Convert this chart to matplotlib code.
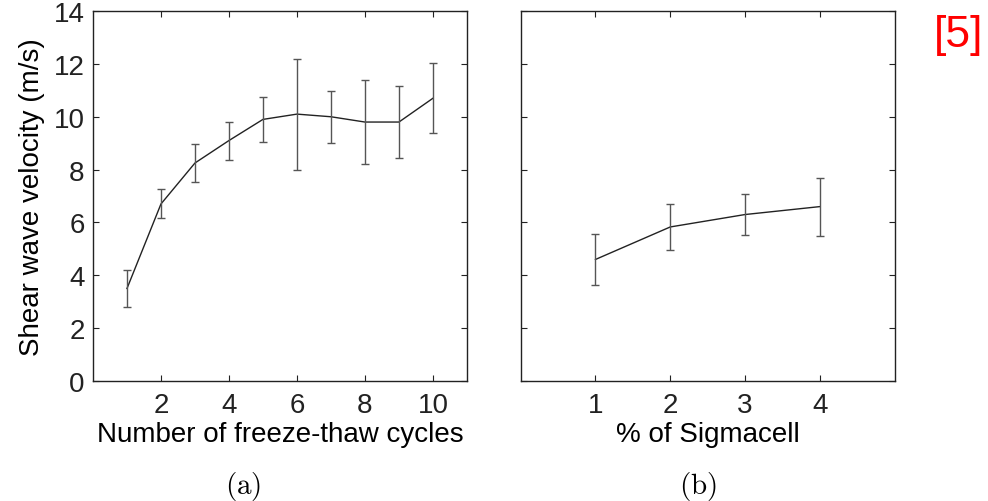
import matplotlib
matplotlib.use('Agg')
import matplotlib.pyplot as plt

# freeze-thaw cycles panel
cycles = [1, 2, 3, 4, 5, 6, 7, 8, 9, 10]
vel_cycles = [3.5, 6.7, 8.25, 9.1, 9.9, 10.1, 10.0, 9.8, 9.8, 10.7]
err_cycles = [0.7, 0.55, 0.72, 0.72, 0.85, 2.1, 0.98, 1.6, 1.35, 1.32]

# sigmacell panel
sigmacell = [1, 2, 3, 4]
vel_sigma = [4.6, 5.83, 6.3, 6.6]
err_sigma = [0.95, 0.87, 0.77, 1.1]

plt.rcParams['font.family'] = ['Liberation Sans', 'DejaVu Sans']
plt.rcParams['mathtext.fontset'] = 'cm'

fig = plt.figure(figsize=(9.88, 5.02), dpi=100)
ax1 = fig.add_axes([0.0941, 0.239, 0.3785, 0.737])
ax2 = fig.add_axes([0.527, 0.239, 0.3785, 0.737])

for ax, x, y, e in [(ax1, cycles, vel_cycles, err_cycles),
                    (ax2, sigmacell, vel_sigma, err_sigma)]:
    ax.plot(x, y, color='#222222', lw=1.0)
    ax.errorbar(x, y, yerr=e, fmt='none', ecolor='#555555', elinewidth=1.0,
                capsize=3, capthick=1.0)
    ax.set_ylim(0, 14)
    ax.set_yticks(range(0, 15, 2))
    ax.tick_params(direction='in', length=4, width=0.8, top=True, right=True,
                   labelsize=20, colors='#222222')
    ax.tick_params(axis='y', pad=6)
    ax.tick_params(axis='x', pad=8)
    for s in ax.spines.values():
        s.set_linewidth(1.0)
        s.set_color('#222222')

ax1.set_xlim(0, 11)
ax1.set_xticks([2, 4, 6, 8, 10])
ax1.set_xlabel('Number of freeze-thaw cycles', fontsize=20, labelpad=2)
ax1.set_ylabel('Shear wave velocity (m/s)', fontsize=20, labelpad=6)

ax2.set_xlim(0, 5)
ax2.set_xticks(sigmacell)
ax2.set_yticklabels([])
ax2.set_xlabel('% of Sigmacell', fontsize=20, labelpad=2)

fig.text(0.246, 0.03, r'$\mathrm{(a)}$', fontsize=21, ha='center', va='center')
fig.text(0.706, 0.03, r'$\mathrm{(b)}$', fontsize=21, ha='center', va='center')
fig.text(0.970, 0.93, '[5]', color='red', fontsize=32, ha='center', va='center')

fig.savefig('out.png', dpi=100)
